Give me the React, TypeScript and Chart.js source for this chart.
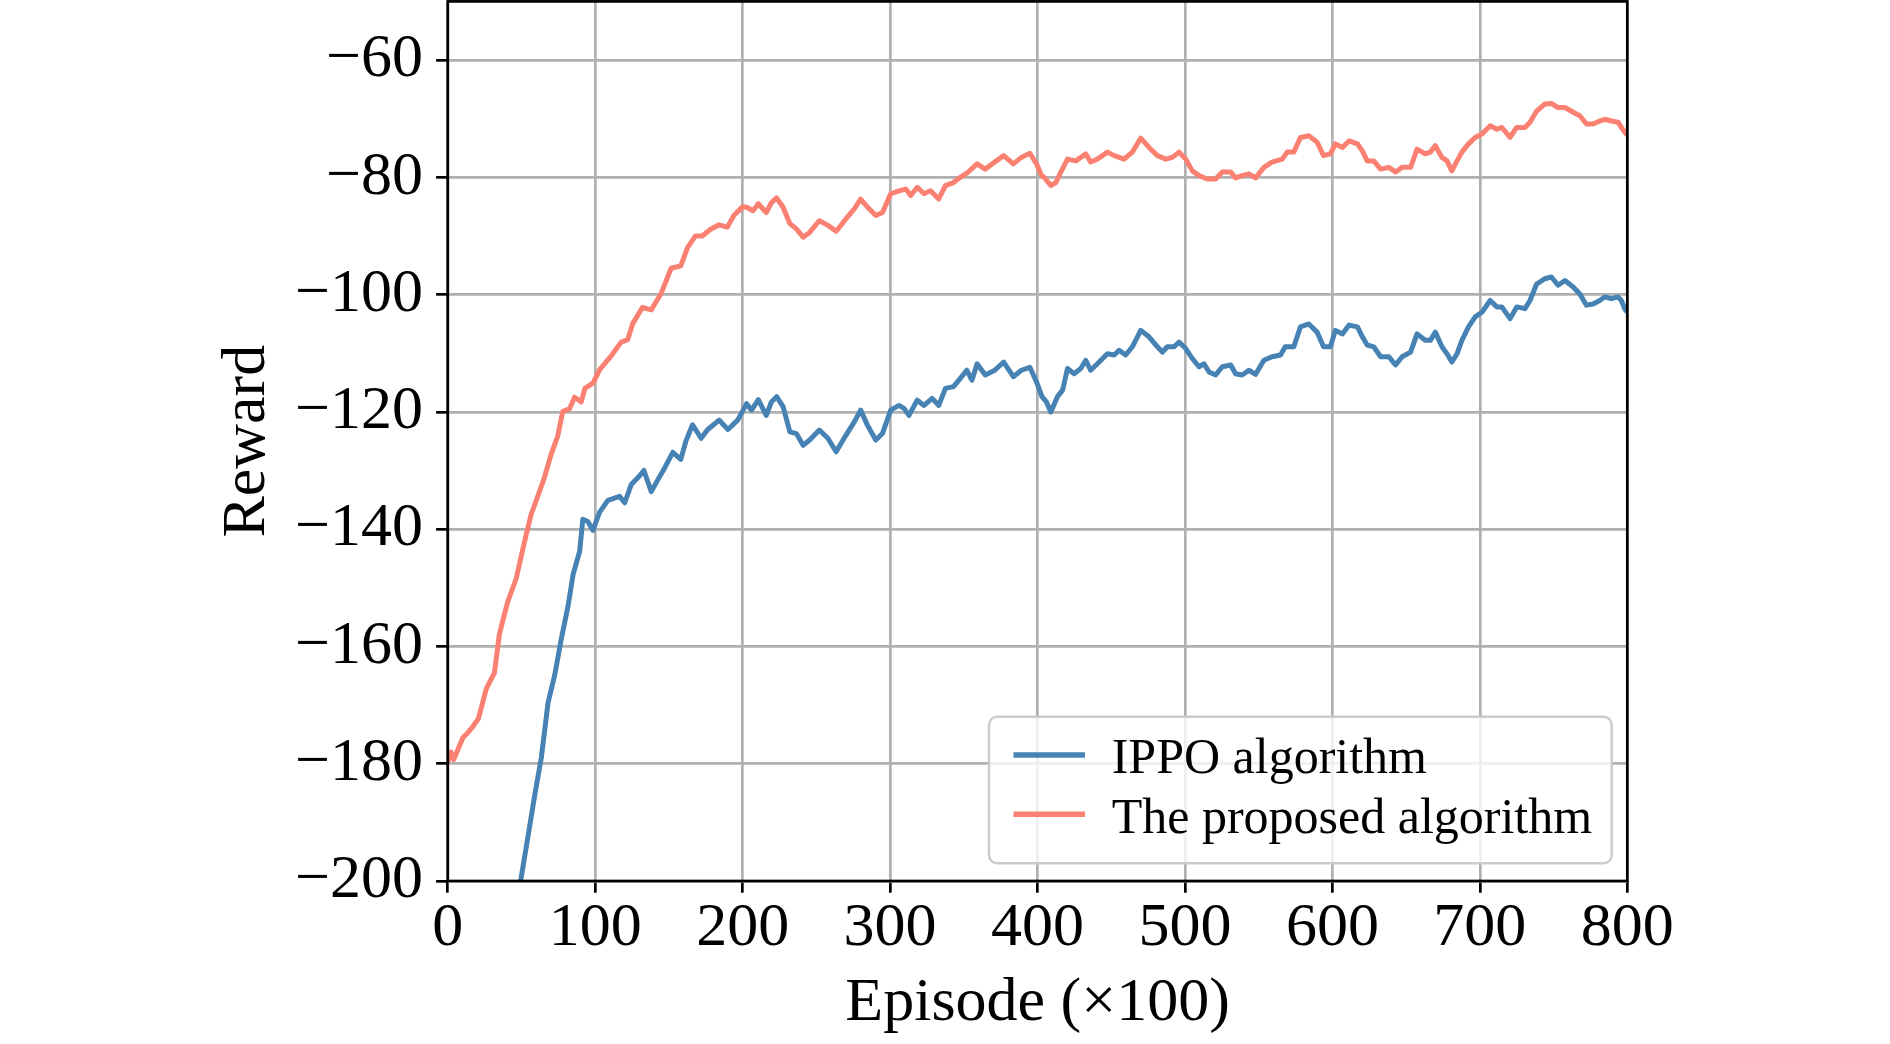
import React, { useEffect, useRef } from 'react';
import { Chart, registerables } from 'chart.js';

Chart.register(...registerables);

// values
const ippoEpisodes = [
  49.4, 54.4, 59, 63.4, 68, 72.5, 77, 81.5, 85, 89.4, 91.6, 95, 98.4, 103, 108.6, 116.5, 120, 124.4, 129, 133,
  138, 142.4, 147, 152.6, 158, 161.6, 166, 171.8, 176.3, 184, 190, 196.6, 202.7, 206, 210.6, 216, 219.5, 223,
  227.4, 232, 236.4, 241, 245.4, 252, 257.8, 263.4, 270, 275.7, 280, 284.7, 290.3, 294.8, 300.4, 306, 309.4,
  312.8, 318.4, 323, 328.5, 333, 337.5, 343, 347.6, 352, 355.5, 359, 364.5, 371, 377, 383.6, 389, 394.8, 399.3,
  403, 406, 409, 413.5, 417, 420.3, 424.8, 429.3, 432.7, 436, 440.6, 447.4, 452, 455.3, 459.8, 464.3, 470,
  475.6, 481.3, 484.7, 488, 492.6, 496, 500.5, 505, 509.5, 512.9, 516.3, 520.8, 525.3, 531, 534.3, 538.8,
  543.3, 547.9, 553.5, 559, 564.8, 568, 573.8, 578.3, 584, 589.6, 594, 598.6, 602, 606.8, 611.3, 617, 620.3,
  623.6, 628, 632.7, 638.3, 642.8, 647.3, 653, 657.4, 663, 666.4, 669.8, 674.3, 677.7, 681, 684.5, 687.8,
  692.3, 696.8, 701.4, 707, 711.5, 714.9, 720.5, 725, 730.6, 734, 738.5, 744, 748.6, 753, 757.7, 763.3, 767.8,
  772.3, 776.8, 781.3, 784.7, 789.2, 793.7, 796, 798.2, 800,
];
const ippoRewards = [
  -200, -192.4, -185.3, -179, -169.6, -164.9, -158.7, -153.2, -147.7, -143.8, -138.3, -138.7, -140.2, -137.1,
  -135.1, -134.4, -135.5, -132.4, -131.2, -130, -133.6, -131.6, -129.6, -126.9, -128.1, -124.9, -122.2, -124.5,
  -123, -121.4, -123, -121.4, -118.6, -119.7, -117.9, -120.6, -118.3, -117.4, -119.1, -123.4, -123.7, -125.7,
  -124.8, -123.1, -124.5, -126.8, -124, -121.7, -119.7, -122.3, -124.8, -123.7, -119.7, -118.9, -119.4, -120.6,
  -118, -118.9, -117.7, -118.9, -116, -115.7, -114.3, -112.9, -114.6, -111.8, -113.7, -112.9, -111.5, -114,
  -112.9, -112.4, -114.9, -117.4, -118.3, -120, -117.4, -116.3, -112.6, -113.5, -112.6, -111.2, -112.9, -111.8,
  -110.1, -110.3, -109.5, -110.3, -108.9, -106.1, -107.2, -108.9, -109.8, -108.9, -108.9, -108.1, -109.2,
  -110.9, -112.3, -111.8, -113.2, -113.7, -112.3, -112, -113.5, -113.7, -112.9, -113.6, -111.2, -110.6, -110.3,
  -108.9, -108.9, -105.5, -105, -106.4, -108.9, -108.9, -106.1, -106.7, -105.2, -105.5, -107.2, -108.6, -108.9,
  -110.6, -110.6, -112, -110.6, -109.8, -106.7, -107.8, -107.8, -106.4, -108.9, -110.1, -111.5, -110.1, -107.8,
  -105.5, -103.8, -103, -101, -102.1, -102.1, -104.1, -102.1, -102.4, -101, -98.2, -97.3, -97, -98.4, -97.6,
  -98.7, -99.9, -101.8, -101.6, -101, -100.4, -100.7, -100.4, -101, -102.4, -103,
];

const proposedEpisodes = [
  0, 2, 4, 7, 10.4, 13.3, 16.3, 20.8, 26, 31.6, 35, 40.6, 46.3, 52, 56.5, 61, 65.5, 70, 74.5, 78, 82.5, 86,
  90.5, 93, 98.5, 103, 111, 117.6, 122, 125.5, 132, 138, 144.7, 151.5, 158, 162.6, 168, 172.6, 178, 184, 189.6,
  194, 200, 202.7, 207, 210.6, 216, 219.5, 223, 227.4, 232, 236.4, 241, 245.4, 252, 257.8, 263.4, 270, 275.7,
  280, 284.7, 290.3, 294.8, 300.4, 306, 310.6, 314, 318.4, 323, 327.4, 333, 337.5, 343, 347.6, 353, 359, 364.5,
  371, 377, 383.6, 389, 394.8, 399.3, 402.7, 404.5, 409, 412.4, 415.8, 420.3, 426, 432.7, 436, 440.6, 447.4,
  452, 458.7, 464.3, 470, 475.6, 481.3, 487, 491.4, 496, 500.5, 505, 509.5, 515, 520.8, 525.3, 531, 534.3,
  538.8, 543.3, 547.9, 553.5, 559, 566, 569.3, 573.8, 578.3, 584, 589.6, 594, 598.6, 602, 606.8, 611.3, 617,
  620.3, 623.6, 628, 632.7, 638.3, 642.8, 647.3, 653, 657.4, 663, 666.4, 669.8, 674.3, 677.7, 681, 684.5, 687.8,
  692.3, 696.8, 701.4, 707, 711.5, 714.9, 720.5, 725, 730.6, 734, 738.5, 744, 748.6, 753, 757.7, 763.3, 767.8,
  772.3, 776.8, 781.3, 784.7, 789.2, 793.7, 796, 798.2, 800,
];
const proposedRewards = [
  -179.8, -178, -179.3, -177.5, -175.5, -174.8, -173.9, -172.3, -167.3, -164.5, -157.9, -152.4, -148.5, -142.2,
  -137.5, -134.4, -131.2, -127.3, -124.2, -119.9, -119.5, -117.5, -118.3, -116, -115.1, -112.8, -110.4, -108.1,
  -107.7, -104.9, -102.2, -102.6, -99.8, -95.5, -95.1, -92, -90, -90, -88.9, -88.1, -88.5, -86.5, -85, -85.1,
  -85.7, -84.5, -86, -84.3, -83.5, -85.1, -87.9, -88.8, -90.2, -89.4, -87.4, -88.2, -89.2, -87.1, -85.4, -83.7,
  -85.1, -86.5, -86, -82.8, -82.3, -82, -83.1, -81.7, -82.8, -82.3, -83.7, -81.4, -80.9, -80, -79.1, -77.7,
  -78.6, -77.4, -76.3, -77.7, -76.6, -75.9, -77.7, -79.7, -80, -81.4, -80.9, -79.1, -76.9, -77.2, -76, -77.4,
  -76.9, -75.7, -76.3, -76.9, -75.7, -73.3, -74.9, -76.3, -76.9, -76.6, -75.7, -76.9, -78.9, -79.7, -80.3,
  -80.3, -79.1, -79.1, -80.1, -79.7, -79.4, -80.1, -78.3, -77.4, -76.9, -75.7, -75.7, -73.2, -72.9, -74, -76.3,
  -76, -74.3, -74.9, -73.8, -74.3, -75.5, -77.2, -77.2, -78.6, -78.3, -79.1, -78.3, -78.3, -75.2, -76, -75.7,
  -74.6, -76.6, -77.2, -78.9, -77.2, -75.7, -74.3, -73.2, -72.6, -71.2, -71.8, -71.5, -73.2, -71.5, -71.5,
  -70.6, -68.7, -67.5, -67.4, -68.1, -68.1, -68.9, -69.5, -70.9, -70.9, -70.4, -70.1, -70.4, -70.6, -71.5,
  -72.3, -72.8,
];

const seriesLabels = ['IPPO algorithm', 'The proposed algorithm'];
const seriesColors = ['#4682b4', '#fa8072'];
const xTicks = [0, 100, 200, 300, 400, 500, 600, 700, 800];
const yTicks = [-200, -180, -160, -140, -120, -100, -80, -60];

const serif = '"Liberation Serif", "Times New Roman", serif';

const toPoints = (xs: number[], ys: number[]) => xs.map((x, i) => ({ x, y: ys[i] }));

// four black spines like a matplotlib axes box
const framePlugin = {
  id: 'frame',
  afterDatasetsDraw(chart: any) {
    const { ctx, chartArea: a } = chart;
    ctx.save();
    ctx.strokeStyle = '#000';
    ctx.lineWidth = 2.7;
    ctx.strokeRect(a.left, a.top, a.right - a.left, a.bottom - a.top);
    ctx.restore();
  },
};

// legend box in the lower right corner of the plot area
const boxLegendPlugin = {
  id: 'boxLegend',
  afterDraw(chart: any) {
    const { ctx, chartArea: a } = chart;
    const w = 622.7;
    const h = 146.6;
    const left = a.right - 15.6 - w;
    const top = a.bottom - 17.7 - h;
    ctx.save();
    ctx.beginPath();
    ctx.roundRect(left, top, w, h, 8);
    ctx.fillStyle = 'rgba(255,255,255,0.8)';
    ctx.fill();
    ctx.strokeStyle = '#cccccc';
    ctx.lineWidth = 2.5;
    ctx.stroke();
    chart.data.datasets.forEach((ds: any, i: number) => {
      const cy = top + 38.3 + i * 59.3;
      ctx.strokeStyle = ds.borderColor;
      ctx.lineWidth = 5.5;
      ctx.beginPath();
      ctx.moveTo(left + 24.5, cy);
      ctx.lineTo(left + 96, cy);
      ctx.stroke();
      ctx.fillStyle = '#000';
      ctx.font = `50px ${serif}`;
      ctx.textBaseline = 'alphabetic';
      ctx.textAlign = 'left';
      ctx.fillText(ds.label, left + 122.7, cy + 18.3);
    });
    ctx.restore();
  },
};

const RewardChart: React.FC = () => {
  const canvasRef = useRef<HTMLCanvasElement | null>(null);

  useEffect(() => {
    if (!canvasRef.current) return;
    const grid = {
      color: '#b0b0b0',
      lineWidth: 2.7,
      tickColor: '#000',
      tickWidth: 2.7,
      tickLength: 11.7,
    };

    const chart = new Chart(canvasRef.current, {
      type: 'line',
      data: {
        datasets: [
          {
            label: seriesLabels[0],
            data: toPoints(ippoEpisodes, ippoRewards),
            borderColor: seriesColors[0],
            borderWidth: 5,
            pointRadius: 0,
            borderJoinStyle: 'round',
            tension: 0,
          },
          {
            label: seriesLabels[1],
            data: toPoints(proposedEpisodes, proposedRewards),
            borderColor: seriesColors[1],
            borderWidth: 5,
            pointRadius: 0,
            borderJoinStyle: 'round',
            tension: 0,
          },
        ],
      },
      options: {
        responsive: false,
        animation: false,
        devicePixelRatio: 1,
        layout: { padding: { left: 0, top: 1.4, right: 262.7, bottom: 0 } },
        plugins: {
          legend: { display: false },
          tooltip: { enabled: false },
        },
        scales: {
          x: {
            type: 'linear',
            min: 0,
            max: 800,
            afterBuildTicks: (s: any) => {
              s.ticks = xTicks.map((value) => ({ value }));
            },
            afterFit: (s: any) => {
              s.height = 163;
              s.paddingLeft = 0;
              s.paddingRight = 0;
            },
            grid,
            border: { display: false },
            ticks: {
              color: '#000',
              padding: 4.6,
              maxRotation: 0,
              autoSkip: false,
              font: { family: serif, size: 62, lineHeight: 1 },
            },
            title: {
              display: true,
              text: 'Episode (×100)',
              color: '#000',
              padding: { top: 0, bottom: 8.9 },
              font: { family: serif, size: 62, lineHeight: 1 },
            },
          },
          y: {
            type: 'linear',
            min: -200,
            max: -50,
            afterBuildTicks: (s: any) => {
              s.ticks = yTicks.map((value) => ({ value }));
            },
            afterFit: (s: any) => {
              s.width = 447.8;
              s.paddingTop = 0;
              s.paddingBottom = 0;
            },
            grid,
            border: { display: false },
            ticks: {
              color: '#000',
              padding: 13.2,
              autoSkip: false,
              font: { family: serif, size: 62, lineHeight: 1 },
              callback: (v: any) => String(v).replace('-', '\u2212'),
            },
            title: {
              display: true,
              text: 'Reward',
              color: '#000',
              padding: { top: 216.4, bottom: 0 },
              font: { family: serif, size: 62, lineHeight: 1 },
            },
          },
        },
      },
      plugins: [framePlugin, boxLegendPlugin],
    });

    return () => {
      chart.destroy();
    };
  }, []);

  return (
    <div style={{ position: 'absolute', left: 0, top: 0, width: 1890, height: 1044 }}>
      <canvas ref={canvasRef} width={1890} height={1044} style={{ width: 1890, height: 1044 }} />
    </div>
  );
};

export default function App() {
  return <RewardChart />;
}
